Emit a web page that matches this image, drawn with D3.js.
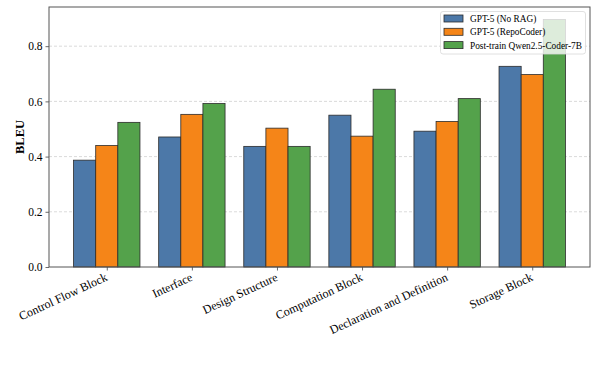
<!DOCTYPE html>
<html><head><meta charset="utf-8">
<script src="https://cdn.jsdelivr.net/npm/d3@7"></script>
<style>body{margin:0;background:#fff}svg{display:block}svg text{font-family:"Liberation Serif","Times New Roman",Times,serif !important}</style>
</head><body>
<script>
const categories = ["Control Flow Block","Interface","Design Structure","Computation Block","Declaration and Definition","Storage Block"];
const seriesNames = ["GPT-5 (No RAG)","GPT-5 (RepoCoder)","Post-train Qwen2.5-Coder-7B"];
const noRag = [0.387,0.471,0.437,0.550,0.492,0.727];
const repoCoder = [0.440,0.553,0.503,0.474,0.527,0.697];
const postTrain = [0.524,0.592,0.437,0.644,0.610,0.897];
const yTicks = [0.0,0.2,0.4,0.6,0.8];
const colors = ["#4c78a8","#f58518","#54a24b"];
const series = [noRag, repoCoder, postTrain];

const W=598,H=373;
const m={l:49,t:7,r:8,b:106};
const svg=d3.select("body").append("svg").attr("width",W).attr("height",H);

const x=d3.scaleLinear().domain([-0.679,5.679]).range([m.l,W-m.r]);
const y=d3.scaleLinear().domain([0,0.9419]).range([H-m.b,m.t]);
const bw=0.26;

// grid
svg.append("g").selectAll("line").data(yTicks.filter(d=>d>0)).join("line")
  .attr("x1",m.l).attr("x2",W-m.r).attr("y1",d=>y(d)).attr("y2",d=>y(d))
  .attr("stroke","#d0d0d0").attr("stroke-width",0.8).attr("stroke-dasharray","3,2");

// bars
series.forEach((vals,si)=>{
  svg.append("g").selectAll("rect").data(vals).join("rect")
    .attr("x",(d,i)=>x(i+(si-1)*bw-bw/2))
    .attr("width",x(bw)-x(0))
    .attr("y",d=>y(d)).attr("height",d=>y(0)-y(d))
    .attr("fill",colors[si]).attr("stroke","#2b2b2b").attr("stroke-width",0.8);
});

// axes
const yAxis=d3.axisLeft(y).tickValues(yTicks).tickFormat(d3.format(".1f")).tickSize(3.5).tickPadding(3);
const gy=svg.append("g").attr("transform",`translate(${m.l},0)`).call(yAxis);
const xAxis=d3.axisBottom(x).tickValues(d3.range(categories.length)).tickFormat(i=>categories[i]).tickSize(3.5).tickPadding(3);
const gx=svg.append("g").attr("transform",`translate(0,${H-m.b})`).call(xAxis);
[gx,gy].forEach(g=>{g.attr("font-family",null).attr("font-size",null);
  g.select(".domain").remove();g.selectAll(".tick line").attr("stroke","#444").attr("stroke-width",0.8);
  g.selectAll("text").style("font-size","11.5px").attr("fill","#000");});
gx.selectAll("text").style("font-size","12px").attr("text-anchor","end").attr("dy",0).attr("y",0)
  .attr("transform","translate(1,13) rotate(-25)");

// frame
svg.append("rect").attr("x",m.l).attr("y",m.t).attr("width",W-m.r-m.l).attr("height",H-m.b-m.t)
  .attr("fill","none").attr("stroke","#555").attr("stroke-width",1);

// y label
svg.append("text").attr("transform",`translate(24,${(m.t+H-m.b)/2}) rotate(-90)`)
  .attr("text-anchor","middle").style("font-size","12.5px").attr("font-weight","bold").text("BLEU");

// legend
const lg=svg.append("g").attr("transform","translate(440.5,11.5)");
lg.append("rect").attr("width",145).attr("height",42.5).attr("rx",2.5)
  .attr("fill","rgba(255,255,255,0.8)").attr("stroke","#d8d8d8").attr("stroke-width",0.8);
seriesNames.forEach((n,i)=>{
  const ry=7.5+i*13.3;
  lg.append("rect").attr("x",3.5).attr("y",ry-4).attr("width",19).attr("height",7)
    .attr("fill",colors[i]).attr("stroke","#2b2b2b").attr("stroke-width",0.8);
  lg.append("text").attr("x",29.5).attr("y",ry+3).style("font-size","9.3px").text(n);
});
</script>
</body></html>
